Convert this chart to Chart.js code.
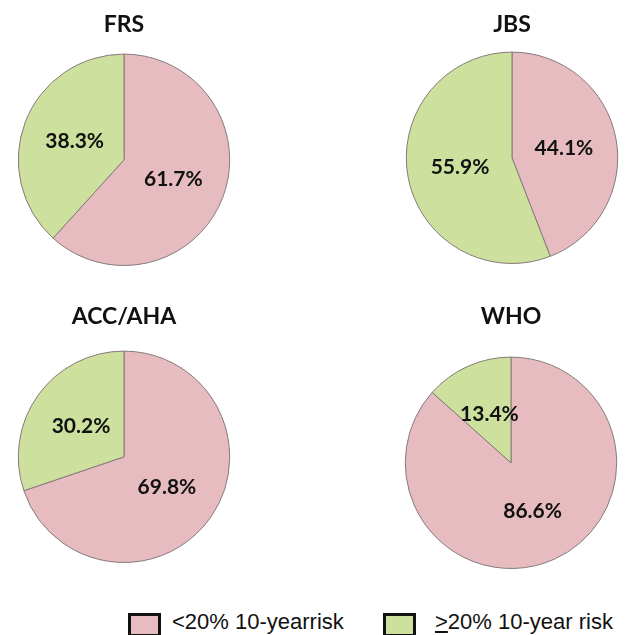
<!DOCTYPE html>
<html>
<head>
<meta charset="utf-8">
<script src="https://cdn.jsdelivr.net/npm/chart.js@4.4.1/dist/chart.umd.min.js"></script>
<style>
  body { margin: 0; background: #fff; }
  #wrap { position: relative; width: 640px; height: 635px; overflow: hidden; }
  canvas { position: absolute; }
  .legend { position: absolute; top: 612px; left: 0; width: 640px; height: 24px;
    font-family: "Liberation Sans", Arial, sans-serif; font-size: 22px; color: #111; }
  .legend .box { position: absolute; top: 1px; width: 27px; height: 18px; border: 3px solid #111; }
  .legend .txt { position: absolute; top: -1px; line-height: 22px; white-space: nowrap; }
</style>
</head>
<body>
<div id="wrap">
  <canvas id="c0"></canvas>
  <canvas id="c1"></canvas>
  <canvas id="c2"></canvas>
  <canvas id="c3"></canvas>
  <div class="legend">
    <div class="box" style="left:128px;background:#e6bcc0"></div>
    <div class="txt" style="left:172px">&lt;20% 10-yearrisk</div>
    <div class="box" style="left:383px;background:#cde09e"></div>
    <div class="txt" style="left:435px"><u>&gt;</u>20% 10-year risk</div>
  </div>
</div>
<script>
// data
const scores = ['FRS', 'JBS', 'ACC/AHA', 'WHO'];
const seriesLabels = ['<20% 10-yearrisk', '\u226520% 10-year risk'];
const lowRisk = [61.7, 44.1, 69.8, 86.6];
const highRisk = [38.3, 55.9, 30.2, 13.4];

const colors = ['#e6bcc0', '#cde09e'];

// where each small chart sits on the page
const boxes = [
  {left: 0,   top: 0,   h: 266, padTop: 11, padBottom: 15},
  {left: 388, top: 0,   h: 264, padTop: 11, padBottom: 13},
  {left: 0,   top: 300, h: 263, padTop: 3,  padBottom: 20},
  {left: 387, top: 300, h: 269, padTop: 3,  padBottom: 26},
];

const pctLabels = {
  id: 'pctLabels',
  afterDatasetsDraw(chart) {
    const ctx = chart.ctx;
    const meta = chart.getDatasetMeta(0);
    const data = chart.data.datasets[0].data;
    ctx.save();
    ctx.font = 'bold 21px Lato, "Open Sans", sans-serif';
    ctx.fillStyle = '#111';
    ctx.textAlign = 'center';
    ctx.textBaseline = 'middle';
    meta.data.forEach((arc, i) => {
      const p = arc.getProps(['x', 'y', 'startAngle', 'endAngle', 'outerRadius'], true);
      const mid = (p.startAngle + p.endAngle) / 2;
      const d = p.outerRadius * 0.5;
      ctx.fillText(data[i].toFixed(1) + '%', p.x + Math.cos(mid) * d, p.y + Math.sin(mid) * d);
    });
    ctx.restore();
  }
};

scores.forEach((name, i) => {
  const b = boxes[i];
  const el = document.getElementById('c' + i);
  el.style.left = b.left + 'px';
  el.style.top = b.top + 'px';
  el.width = 248;
  el.height = b.h;
  new Chart(el, {
    type: 'pie',
    data: {
      labels: seriesLabels,
      datasets: [{
        data: [lowRisk[i], highRisk[i]],
        backgroundColor: colors,
        borderColor: '#857a7a',
        borderWidth: 1,
      }],
    },
    options: {
      responsive: false,
      animation: false,
      plugins: {
        legend: {display: false},
        tooltip: {enabled: false},
        title: {
          display: true,
          text: name,
          color: '#111',
          font: {family: 'Lato, "Open Sans", sans-serif', size: 23, weight: 'bold'},
          padding: {top: b.padTop, bottom: b.padBottom},
        },
      },
    },
    plugins: [pctLabels],
  });
});
</script>
</body>
</html>
